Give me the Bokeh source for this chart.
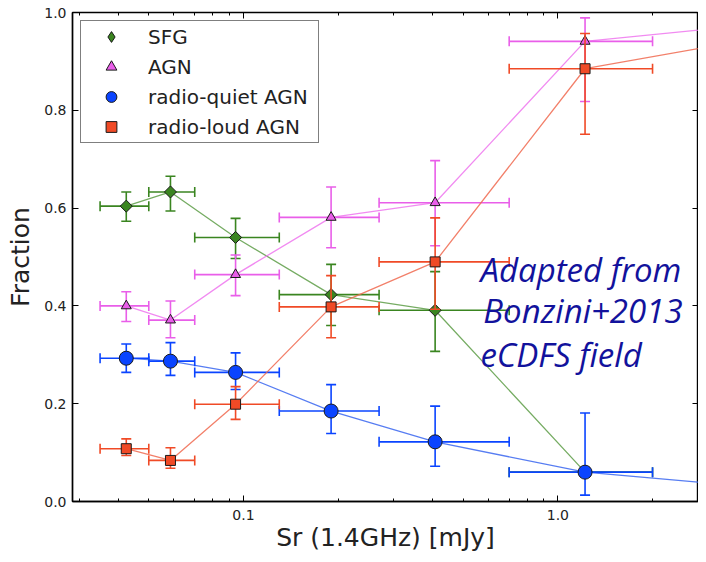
import numpy as np
from bokeh.plotting import figure
from bokeh.models import (LogAxis, LinearAxis, FixedTicker, CustomJSTickFormatter,
                          Range1d, Label)
from bokeh.embed import file_html
from bokeh.resources import INLINE

# ---------------- data ----------------
x_center = [0.0424, 0.0586, 0.0944, 0.19, 0.407, 1.22]
x_low = [0.035, 0.05, 0.07, 0.13, 0.27, 0.70]
x_high = [0.05, 0.07, 0.13, 0.27, 0.70, 2.0]
x_beyond = 4.5  # next bin, outside the plotted range

sfg = [0.604, 0.633, 0.540, 0.423, 0.391, 0.060]
sfg_lo = [0.573, 0.594, 0.497, 0.360, 0.307, 0.060]
sfg_hi = [0.633, 0.665, 0.579, 0.485, 0.470, 0.060]
sfg_beyond = 0.02

agn = [0.400, 0.371, 0.464, 0.581, 0.611, 0.941]
agn_lo = [0.368, 0.335, 0.421, 0.519, 0.523, 0.818]
agn_hi = [0.429, 0.410, 0.504, 0.643, 0.697, 0.989]
agn_beyond = 0.977

rq = [0.293, 0.287, 0.264, 0.185, 0.122, 0.060]
rq_lo = [0.264, 0.258, 0.229, 0.139, 0.072, 0.013]
rq_hi = [0.322, 0.325, 0.304, 0.239, 0.195, 0.181]
rq_beyond = 0.028

rl = [0.108, 0.084, 0.199, 0.398, 0.490, 0.885]
rl_lo = [0.094, 0.068, 0.168, 0.335, 0.393, 0.751]
rl_hi = [0.128, 0.110, 0.235, 0.462, 0.580, 0.957]
rl_beyond = 0.950

x_major = [0.1, 1.0]
x_minor = [0.03, 0.04, 0.05, 0.06, 0.07, 0.08, 0.09,
           0.2, 0.3, 0.4, 0.5, 0.6, 0.7, 0.8, 0.9, 2.0, 3.0]
y_major = [0.0, 0.2, 0.4, 0.6, 0.8, 1.0]

note_lines = ["Adapted from", "Bonzini+2013", "eCDFS field"]
note_x = [0.567, 0.579, 0.567]
note_y = [0.474, 0.391, 0.300]

series = [
    dict(name="SFG", y=sfg, lo=sfg_lo, hi=sfg_hi, beyond=sfg_beyond, draw_beyond=False,
         color="#3a8520", line="#5e9e48", marker="square", angle=np.pi / 4, size=8.5,
         legend_marker="diamond", legend_size=15),
    dict(name="AGN", y=agn, lo=agn_lo, hi=agn_hi, beyond=agn_beyond, draw_beyond=True,
         color="#e95ee9", line="#ee77ee", marker="triangle", angle=0, size=10,
         legend_marker="triangle", legend_size=10),
    dict(name="radio-quiet AGN", y=rq, lo=rq_lo, hi=rq_hi, beyond=rq_beyond, draw_beyond=True,
         color="#0a44ff", line="#3a66f0", marker="circle", angle=0, size=14,
         legend_marker="circle", legend_size=14),
    dict(name="radio-loud AGN", y=rl, lo=rl_lo, hi=rl_hi, beyond=rl_beyond, draw_beyond=True,
         color="#f04a26", line="#f06a50", marker="square", angle=0, size=10,
         legend_marker="square", legend_size=10),
]

# ---------------- figure ----------------
FRAME_H = 491
p = figure(width=698, height=554, x_axis_type="log",
           x_range=Range1d(0.0286, 2.8), y_range=Range1d(0, 1),
           output_backend="svg", toolbar_location=None,
           min_border_left=72, min_border_right=0,
           min_border_top=12, min_border_bottom=51)
p.xgrid.visible = False
p.ygrid.visible = False
p.outline_line_color = "black"
p.outline_line_width = 1.4
p.background_fill_color = "white"
p.border_fill_color = "white"

fmt = CustomJSTickFormatter(code="return tick.toFixed(1);")

xa = p.xaxis[0]
xa.ticker = FixedTicker(ticks=x_major, minor_ticks=x_minor)
xa.formatter = fmt
ya = p.yaxis[0]
ya.ticker = FixedTicker(ticks=y_major)
ya.formatter = fmt

for ax in (xa, ya):
    ax.major_tick_in = 6
    ax.major_tick_out = 0
    ax.minor_tick_in = 3
    ax.minor_tick_out = 0
    ax.axis_line_color = "black"
    ax.axis_line_width = 1.4
    ax.major_label_text_font = "DejaVu Sans"
    ax.major_label_text_font_size = "14px"
    ax.major_label_text_color = "#222222"
    ax.axis_label_text_font = "DejaVu Sans"
    ax.axis_label_text_font_size = "25px"
    ax.axis_label_text_font_style = "normal"
    ax.axis_label_text_color = "#222222"
ya.minor_tick_in = 0
xa.major_label_standoff = 8
ya.major_label_standoff = 6
xa.axis_label = "Sr (1.4GHz) [mJy]"
ya.axis_label = "Fraction"
xa.axis_label_standoff = 0
ya.axis_label_standoff = 6

top = LogAxis(ticker=FixedTicker(ticks=x_major, minor_ticks=x_minor))
right = LinearAxis(ticker=FixedTicker(ticks=y_major))
for ax in (top, right):
    ax.major_tick_in = 6
    ax.major_tick_out = 0
    ax.minor_tick_in = 3
    ax.minor_tick_out = 0
    ax.major_label_text_font_size = "1px"
    ax.major_label_text_alpha = 0
    ax.major_label_standoff = 0
    ax.axis_line_color = None
right.minor_tick_in = 0
p.add_layout(top, "above")
p.add_layout(right, "right")

# ---------------- series ----------------
xl = np.array(x_low)
xh = np.array(x_high)
xc = np.array(x_center)
for s in series:
    c = s["color"]
    lx = list(x_center)
    ly = list(s["y"])
    if s["draw_beyond"]:
        lx.append(x_beyond)
        ly.append(s["beyond"])
    p.line(lx, ly, line_color=s["line"], line_width=1.3, line_alpha=0.85)
    y = np.array(s["y"])
    lo = np.array(s["lo"])
    hi = np.array(s["hi"])
    p.segment(x0=xc, y0=lo, x1=xc, y1=hi, line_color=c, line_width=1.6)
    p.segment(x0=xl, y0=y, x1=xh, y1=y, line_color=c, line_width=1.6)
    p.scatter(np.concatenate([xc, xc]), np.concatenate([lo, hi]), marker="dash",
              size=10, line_color=c, line_width=1.6)
    p.scatter(np.concatenate([xl, xh]), np.concatenate([y, y]), marker="dash",
              angle=np.pi / 2, size=10, line_color=c, line_width=1.6)
    p.scatter(xc, y, marker=s["marker"], angle=s["angle"], size=s["size"],
              fill_color=c, line_color="#1a1a1a", line_width=1.0)
    # legend proxy: the next (off-range) bin, clipped away by the frame
    p.scatter(x=[x_beyond], y=[s["beyond"]], marker=s["legend_marker"], size=s["legend_size"],
              fill_color=c, line_color="#1a1a1a", line_width=1.0,
              legend_label=s["name"])

lg = p.legend[0]
lg.margin = 0
lg.padding = 2
lg.spacing = 3
lg.glyph_width = 56
lg.glyph_height = 27
lg.label_height = 27
lg.label_standoff = 9
lg.label_width = 168
LEG_H = 2 * 2 + 4 * 27 + 3 * 3
lg.location = (8, FRAME_H - 12 - LEG_H)
lg.label_text_font = "DejaVu Sans"
lg.label_text_font_size = "20px"
lg.label_text_color = "#222222"
lg.border_line_color = "black"
lg.border_line_width = 1.2
lg.background_fill_alpha = 1.0

for t, x, y in zip(note_lines, note_x, note_y):
    p.add_layout(Label(x=x, y=y, text=t, text_font="Open Sans", text_font_style="italic",
                       text_font_size="33px", text_color="#12129c",
                       text_baseline="alphabetic"))

open("out.html", "w").write(file_html(p, INLINE))
